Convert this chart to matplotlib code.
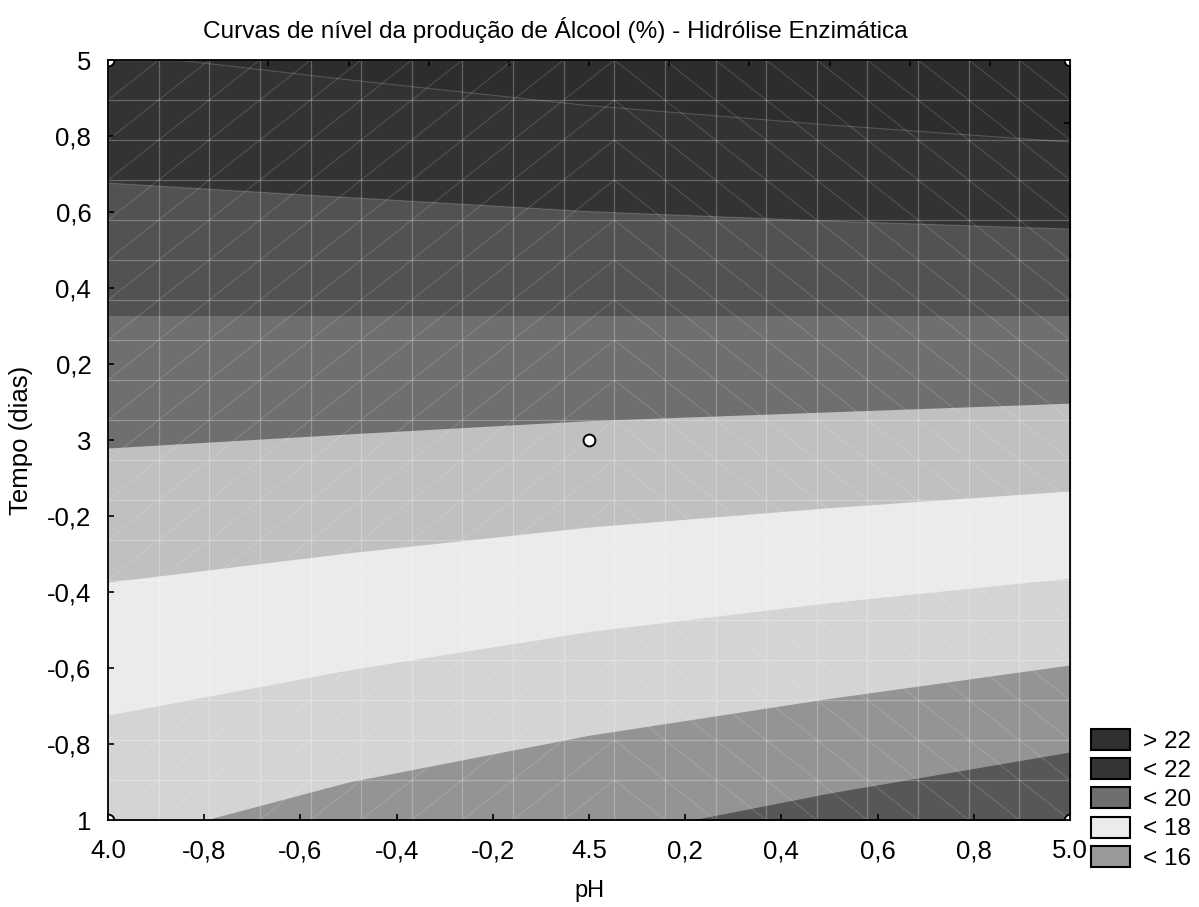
import numpy as np
import matplotlib
matplotlib.use("Agg")
import matplotlib.pyplot as plt
from matplotlib.patches import Patch
from matplotlib.collections import LineCollection

plt.rcParams['font.family'] = ['Liberation Sans', 'DejaVu Sans']

# ---- data (coded units) ----
x_ticks = [-1.0, -0.8, -0.6, -0.4, -0.2, 0.0, 0.2, 0.4, 0.6, 0.8, 1.0]
x_labels = ["4.0", "-0,8", "-0,6", "-0,4", "-0,2", "4.5", "0,2", "0,4", "0,6", "0,8", "5.0"]
y_ticks = [-1.0, -0.8, -0.6, -0.4, -0.2, 0.0, 0.2, 0.4, 0.6, 0.8, 1.0]
y_labels = ["1", "-0,8", "-0,6", "-0,4", "-0,2", "3", "0,2", "0,4", "0,6", "0,8", "5"]

# x positions at which the contour boundaries were read
bx = [-1.0, -0.5, 0.0, 0.5, 1.0]
# contour boundaries (Tempo coded value) from top to bottom
b1 = [1.021, 0.948, 0.880, 0.829, 0.784]
b2 = [0.676, 0.638, 0.601, 0.576, 0.555]
b3 = [0.326, 0.326, 0.326, 0.326, 0.326]
b4 = [-0.021, 0.016, 0.051, 0.074, 0.097]
b5 = [-0.374, -0.297, -0.229, -0.178, -0.134]
b6 = [-0.724, -0.605, -0.504, -0.428, -0.363]
b7 = [-1.068, -0.900, -0.777, -0.680, -0.592]
b8 = [-1.330, -1.185, -1.053, -0.929, -0.821]
boundaries = [b1, b2, b3, b4, b5, b6, b7, b8]
band_colors = ['#2d2d2d', '#333333', '#525252', '#6f6f6f', '#c0c0c0',
               '#ebebeb', '#d4d4d4', '#949494', '#575757']

# design points (coded pH, coded Tempo)
pts_x = [-1.0, 1.0, -1.0, 1.0, 0.0]
pts_y = [-1.0, -1.0, 1.0, 1.0, 0.0]

legend_labels = ["> 22", "< 22", "< 20", "< 18", "< 16"]
legend_colors = ['#303030', '#343434', '#6f6f6f', '#ebebeb', '#999999']

# ---- figure ----
W, H = 1199, 907
fig = plt.figure(figsize=(W / 100, H / 100), dpi=100)
L, R, T, B = 108, 1070, 60, 820
ax = fig.add_axes([L / W, 1 - B / H, (R - L) / W, (B - T) / H])
ax.set_xlim(x_ticks[0], x_ticks[-1])
ax.set_ylim(y_ticks[0], y_ticks[-1])

ax.set_facecolor(band_colors[0])
ext_lo = y_ticks[0] - 1.0
for bnd, col in zip(boundaries, band_colors[1:]):
    ax.fill_between(bx, ext_lo, bnd, color=col, lw=0, zorder=1)
for bnd in boundaries[:2]:
    ax.plot(bx, bnd, color='white', alpha=0.18, lw=0.8, zorder=2)

# triangulated mesh overlay
nodes = np.linspace(x_ticks[0], x_ticks[-1], 20)
ynodes = np.linspace(y_ticks[0], y_ticks[-1], 20)
ax.vlines(nodes, y_ticks[0], y_ticks[-1], colors='white', alpha=0.26, lw=0.9, zorder=3)
ax.hlines(ynodes, x_ticks[0], x_ticks[-1], colors='white', alpha=0.26, lw=0.9, zorder=3)
segs = []
n = len(nodes) - 1
for i in range(n):
    for j in range(n):
        if i < n // 2 + 1:
            segs.append([(nodes[i], ynodes[j]), (nodes[i + 1], ynodes[j + 1])])
        else:
            segs.append([(nodes[i], ynodes[j + 1]), (nodes[i + 1], ynodes[j])])
ax.add_collection(LineCollection(segs, colors='white', alpha=0.17, lw=0.7, zorder=3))

ax.plot(pts_x, pts_y, 'o', ms=8.5, mfc='white', mec='black', mew=1.4, zorder=5)

# axes styling
for s in ax.spines.values():
    s.set_linewidth(1.3)
    s.set_zorder(6)
ax.set_xticks(x_ticks)
ax.set_xticklabels(x_labels)
ax.set_yticks(y_ticks)
ax.set_yticklabels(y_labels)
ax.tick_params(direction='in', length=4, width=1.2, labelsize=18.5)
ax.tick_params(axis='x', pad=14)
ax.tick_params(axis='y', pad=12)

sec_x = ax.secondary_xaxis('top')
sec_x.set_xticks(np.linspace(x_ticks[0], x_ticks[-1], 13))
sec_x.set_xticklabels([])
sec_x.tick_params(direction='in', length=4, width=1.2)
sec_y = ax.secondary_yaxis('right')
sec_y.set_yticks(np.linspace(y_ticks[0], y_ticks[-1], 13))
sec_y.set_yticklabels([])
sec_y.tick_params(direction='in', length=4, width=1.2)

ax.set_xlabel("pH", fontsize=17, labelpad=12)
ax.set_ylabel("Tempo (dias)", fontsize=18.5, labelpad=10)
fig.text(555 / W, 1 - 30 / H, "Curvas de nível da produção de Álcool (%) - Hidrólise Enzimática",
         ha='center', va='center', fontsize=17.6)

handles = [Patch(facecolor=c, edgecolor='black', linewidth=1.5) for c in legend_colors]
fig.legend(handles, legend_labels, loc='upper left', bbox_to_anchor=(1091 / W, 1 - 729 / H),
           frameon=False, fontsize=17.5, handlelength=1.6, handleheight=0.95,
           handletextpad=0.55, labelspacing=0.22, borderpad=0, borderaxespad=0)

fig.savefig("out.png", dpi=100)
